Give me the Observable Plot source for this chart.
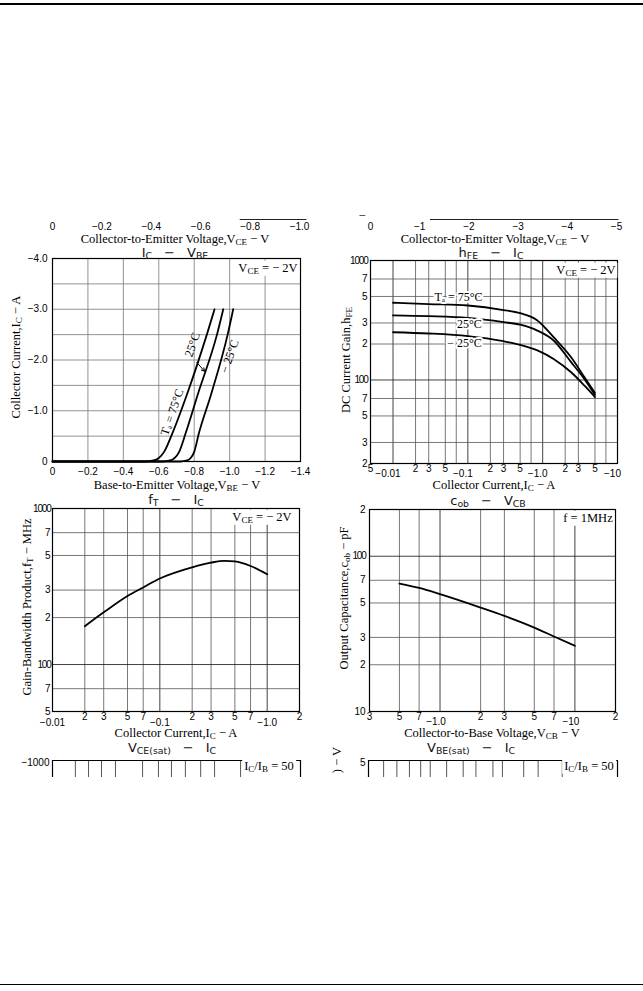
<!DOCTYPE html>
<html><head><meta charset="utf-8">
<script src="https://cdn.jsdelivr.net/npm/d3@7"></script>
<script src="https://cdn.jsdelivr.net/npm/@observablehq/plot@0.6"></script>
<style>
html,body{margin:0;padding:0;background:#fff;}
#page{position:relative;width:643px;height:991px;overflow:hidden;background:#fff;color:#000;}
#page svg{position:absolute;background:transparent;}
.lbl{position:absolute;white-space:nowrap;line-height:1;transform:translate(-50%,-50%);}
.rot{transform:translate(-50%,-50%) rotate(-90deg);}
.serif{font-family:"Liberation Serif","DejaVu Serif",serif;font-size:12.5px;}
.title{font-family:"DejaVu Sans","Liberation Sans",sans-serif;font-size:13px;font-weight:400;color:#111;}
.title .gap{display:inline-block;width:12px;}
.box{background:#fff;padding:1px 2px;}
sub{font-size:72%;vertical-align:-0.3em;line-height:0;}
</style>
</head><body>
<div id="page"></div>
<script>
// ---------------- DATA ----------------
// I_C - V_BE (absolute values: V_BE in V, I_C in A)
const icvbeTemps = ["75°C", "25°C", "−25°C"];
const icvbeV75 = [0, 0.52, 0.57, 0.60, 0.63, 0.676, 0.76, 0.873, 0.915];
const icvbeV25 = [0, 0.62, 0.665, 0.69, 0.715, 0.751, 0.821, 0.930, 0.964];
const icvbeVm25 = [0, 0.72, 0.76, 0.78, 0.80, 0.826, 0.896, 0.990, 1.020];
const icvbeI = [0, 0, 0.02, 0.07, 0.19, 0.55, 1.33, 2.52, 3.0];
const icvbeXTicks = [0, 0.2, 0.4, 0.6, 0.8, 1.0, 1.2, 1.4];
const icvbeYTicks = [0, 1, 2, 3, 4];
const icvbeYGrid = [0.5, 1, 1.5, 2, 2.5, 3, 3.5];

// h_FE - I_C
const hfeIc = [0.01, 0.03, 0.1, 0.3, 0.5, 0.85, 1.4, 2.4, 3.6, 5];
const hfe75 = [443, 432, 420, 385, 362, 315, 228, 155, 106, 78];
const hfe25 = [347, 342, 331, 305, 290, 259, 214, 141, 102, 75];
const hfem25 = [251, 245, 233, 211, 197, 177, 150, 116, 90, 72];
const hfeXGrid = [0.01, 0.02, 0.03, 0.05, 0.07, 0.1, 0.2, 0.3, 0.5, 0.7, 1, 2, 3, 5, 7];
const hfeXMinor = [0.005, 0.02, 0.03, 0.05, 0.2, 0.3, 0.5, 2, 3, 5];
const hfeXMajor = [0.01, 0.1, 1, 10];
const hfeYGrid = [30, 50, 70, 100, 200, 300, 500, 700];
const hfeYTicks = [20, 30, 50, 70, 100, 200, 300, 500, 700, 1000];

// f_T - I_C
const ftIc = [0.02, 0.03, 0.05, 0.07, 0.1, 0.2, 0.3, 0.4, 0.5, 0.7, 1.0];
const ftMHz = [176, 216, 275, 312, 356, 420, 450, 462, 458, 428, 379];
const ftXGrid = [0.02, 0.03, 0.05, 0.07, 0.1, 0.2, 0.3, 0.5, 0.7, 1];
const ftXMinor = [0.02, 0.03, 0.05, 0.07, 0.2, 0.3, 0.5, 0.7, 2];
const ftXMajor = [0.01, 0.1, 1];
const ftYGrid = [70, 100, 200, 300, 500, 700];
const ftYTicks = [50, 70, 100, 200, 300, 500, 700, 1000];

// c_ob - V_CB
const cobV = [0.5, 0.7, 1, 2, 3, 5, 7, 10];
const cobPF = [66.7, 62.5, 57, 46.7, 41.3, 34.7, 30.4, 26.5];
const cobXGrid = [0.5, 0.7, 1, 2, 3, 5, 7, 10];
const cobXMinor = [0.3, 0.5, 0.7, 2, 3, 5, 7, 20];
const cobXMajor = [1, 10];
const cobYGrid = [20, 30, 50, 70, 100];
const cobYTicks = [10, 20, 30, 50, 70, 100, 200];

// partial axes of the charts above (cut off)
const topLeftTicks = [0, 0.2, 0.4, 0.6, 0.8, 1.0];
const topRightTicks = [0, 1, 2, 3, 4, 5];
const topLeftRemnant = [0.76, 1.03];
const topRightRemnant = [1.22, 5.05];

// partial charts below (cut off)
const vcesatGrid = [0.0163, 0.0216, 0.0285, 0.0384, 0.0685, 0.0962, 0.127, 0.171, 0.237, 0.319, 0.556];
const vbesatGrid = [0.0115, 0.013, 0.0146, 0.0162, 0.0177, 0.0206, 0.024, 0.027, 0.0316, 0.0345, 0.042, 0.048, 0.06];

// ---------------- HELPERS ----------------
const page = document.getElementById("page");
const sansFont = '"Liberation Sans", Arial, sans-serif';
const serifFont = '"Liberation Serif", "DejaVu Serif", serif';
const minus = v => "−" + v;
const mantissa = d => String(Math.round(d / Math.pow(10, Math.floor(Math.log10(d) + 1e-9))));

function place(svg, left, top) {
  svg.style.left = left + "px";
  svg.style.top = top + "px";
  page.appendChild(svg);
}
function html(str, x, y, cls) {
  const d = document.createElement("div");
  d.className = "lbl " + (cls || "");
  d.style.left = x + "px";
  d.style.top = y + "px";
  d.innerHTML = str;
  page.appendChild(d);
  return d;
}
const gridMinor = {stroke: "#555", strokeWidth: 0.8};
const tickText = {fontFamily: sansFont, fontSize: 10, fill: "#000"};

function xLabels(ticks, fmt, dy, dx = 0) {
  return Plot.text(ticks, {x: d => d, text: fmt, frameAnchor: "bottom", lineAnchor: "middle", dy, dx, ...tickText});
}
function yLabels(ticks, fmt, pad) {
  return Plot.text(ticks, {y: d => d, text: fmt, frameAnchor: "left", textAnchor: "end", lineAnchor: "middle", dx: -pad, ...tickText});
}
function tighten(svg) {
  d3.select(svg).selectAll("text").each(function () {
    const t = this.textContent;
    if (t === "1000" || t === "100") this.style.letterSpacing = "-1.2px";
  });
}

function chart({left, top, fw, fh, x, y, marks, mL = 56, mT = 12, mR = 22, mB = 26}) {
  const p = Plot.plot({
    width: fw + mL + mR, height: fh + mT + mB,
    marginLeft: mL, marginTop: mT, marginRight: mR, marginBottom: mB,
    x: {...x, axis: null}, y: {...y, axis: null},
    style: {fontFamily: sansFont, fontSize: "10px", background: "transparent", overflow: "visible"},
    marks
  });
  tighten(p);
  place(p, left - mL, top - mT);
  return p;
}
function series(names, xs, ys) {
  const out = [];
  names.forEach((n, i) => xs[i].forEach((xv, j) => out.push({t: n, x: xv, y: ys[i][j]})));
  return out;
}

// ---------------- PAGE RULES ----------------
const topRule = document.createElement("div");
topRule.style.cssText = "position:absolute;left:0;top:3px;width:643px;height:2px;background:#000";
page.appendChild(topRule);
const botRule = document.createElement("div");
botRule.style.cssText = "position:absolute;left:0;top:984px;width:643px;height:1px;background:#000";
page.appendChild(botRule);

// ---------------- PARTIAL TOP AXES ----------------
function topAxis(left, fw, domain, ticks, fmt, remnant) {
  const p = Plot.plot({
    width: fw + 40, height: 30, marginLeft: 20, marginRight: 20, marginTop: 10, marginBottom: 19,
    x: {domain, axis: null}, y: {domain: [0, 1], axis: null},
    style: {fontFamily: sansFont, fontSize: "10px", background: "transparent", overflow: "visible"},
    marks: [
      Plot.ruleY([1], {x1: remnant[0], x2: remnant[1], stroke: "#222", strokeWidth: 1}),
      xLabels(ticks, fmt, 6)
    ]
  });
  place(p, left - 20, 209);
}
topAxis(52, 247, [0, 1], topLeftTicks, d => d === 0 ? "0" : minus(d.toFixed(1)), topLeftRemnant);
topAxis(370, 246, [0, 5], topRightTicks, d => d === 0 ? "0" : minus(d), topRightRemnant);
html('Collector-to-Emitter Voltage,V<sub>CE</sub> − V', 175, 239, "serif");
html('Collector-to-Emitter Voltage,V<sub>CE</sub> − V', 495, 239, "serif");
html('−', 362, 216, "serif");

// ---------------- CHART A: I_C - V_BE ----------------
const icvbeData = series(icvbeTemps, [icvbeV75, icvbeV25, icvbeVm25], [icvbeI, icvbeI, icvbeI]);
chart({
  left: 52, top: 258, fw: 248, fh: 203,
  x: {domain: [0, 1.4]}, y: {domain: [0, 4]},
  marks: [
    Plot.ruleX(icvbeXTicks.slice(1, -1), {stroke: "#777", strokeWidth: 0.8}),
    Plot.ruleY(icvbeYGrid, {stroke: "#777", strokeWidth: 0.8}),
    Plot.frame({stroke: "#000", strokeWidth: 1.2}),
    Plot.line(icvbeData, {x: "x", y: "y", z: "t", curve: "monotone-x", stroke: "#000", strokeWidth: 1.8}),
    Plot.text([{x: 0.675, y: 0.97, s: "Tₐ = 75°C"}, {x: 0.79, y: 2.3, s: "25°C"}, {x: 1.0, y: 2.07, s: "− 25°C"}],
      {x: "x", y: "y", text: "s", rotate: -71, fontFamily: serifFont, fontSize: 12, fill: "#000"}),
    Plot.arrow([{x1: 0.815, y1: 1.95, x2: 0.858, y2: 1.78}], {x1: "x1", y1: "y1", x2: "x2", y2: "y2", stroke: "#000", strokeWidth: 1, headLength: 5}),
    xLabels(icvbeXTicks, d => d === 0 ? "0" : minus(d.toFixed(1)), 10),
    yLabels(icvbeYTicks, d => d === 0 ? "0" : minus(d.toFixed(1)), 5)
  ]
});
html('I<sub>C</sub><span class="gap"></span>−<span class="gap"></span>V<sub>BE</sub>', 175, 252, "title");
html('V<sub>CE</sub> = − 2V', 268, 268, "serif box");
html('Collector Current,I<sub>C</sub> − A', 16, 357, "serif rot");
html('Base-to-Emitter Voltage,V<sub>BE</sub> − V', 177, 485, "serif");

// ---------------- CHART B: h_FE - I_C ----------------
const hfeData = series(icvbeTemps, [hfeIc, hfeIc, hfeIc], [hfe75, hfe25, hfem25]);
chart({
  left: 370, top: 260, fw: 247, fh: 203,
  x: {type: "log", domain: [0.005, 10]}, y: {type: "log", domain: [20, 1000]},
  marks: [
    Plot.ruleX(hfeXGrid, {...gridMinor, stroke: d => hfeXMajor.includes(d) ? "#111" : "#555"}),
    Plot.ruleY(hfeYGrid, {...gridMinor, stroke: d => d === 100 ? "#111" : "#555"}),
    Plot.frame({stroke: "#000", strokeWidth: 1.2}),
    Plot.line(hfeData, {x: "x", y: "y", z: "t", curve: "monotone-x", stroke: "#000", strokeWidth: 1.8}),
    Plot.text([{x: 0.075, y: 490, s: "Tₐ = 75°C"}, {x: 0.105, y: 291, s: "25°C"}, {x: 0.09, y: 202, s: "− 25°C"}],
      {x: "x", y: "y", text: "s", fontFamily: serifFont, fontSize: 12, fill: "#000", stroke: "#fff", strokeWidth: 4}),
    xLabels(hfeXMinor, mantissa, 5),
    xLabels(hfeXMajor, d => d === 10 ? "−10" : d === 1 ? "−1.0" : minus(String(d)), 10, -5),
    yLabels(hfeYTicks, d => (d === 100 || d === 1000) ? String(d) : mantissa(d), 3)
  ]
});
html('h<sub>FE</sub><span class="gap"></span>−<span class="gap"></span>I<sub>C</sub>', 491, 252, "title");
html('V<sub>CE</sub> = − 2V', 586, 270, "serif box");
html('DC Current Gain,h<sub>FE</sub>', 346, 360, "serif rot");
html('Collector Current,I<sub>C</sub> − A', 494, 485, "serif");

// ---------------- CHART C: f_T - I_C ----------------
const ftData = ftIc.map((v, i) => ({x: v, y: ftMHz[i]}));
chart({
  left: 52, top: 508, fw: 247, fh: 203,
  x: {type: "log", domain: [0.01, 2]}, y: {type: "log", domain: [50, 1000]},
  marks: [
    Plot.ruleX(ftXGrid, {...gridMinor, stroke: d => (d === 0.1 || d === 1) ? "#111" : "#555"}),
    Plot.ruleY(ftYGrid, {...gridMinor, stroke: d => d === 100 ? "#111" : "#555"}),
    Plot.frame({stroke: "#000", strokeWidth: 1.2}),
    Plot.line(ftData, {x: "x", y: "y", curve: "monotone-x", stroke: "#000", strokeWidth: 1.8}),
    xLabels(ftXMinor, mantissa, 5),
    xLabels(ftXMajor, d => d === 1 ? "−1.0" : minus(String(d)), 11),
    yLabels(ftYTicks, d => (d === 100 || d === 1000) ? String(d) : mantissa(d), 2)
  ]
});
html('f<sub>T</sub><span class="gap"></span>−<span class="gap"></span>I<sub>C</sub>', 176, 499, "title");
html('V<sub>CE</sub> = − 2V', 262, 517, "serif box");
html('Gain-Bandwidth Product,f<sub>T</sub> − MHz', 27, 607, "serif rot");
html('Collector Current,I<sub>C</sub> − A', 176, 733, "serif");

// ---------------- CHART D: c_ob - V_CB ----------------
const cobData = cobV.map((v, i) => ({x: v, y: cobPF[i]}));
chart({
  left: 369, top: 509, fw: 246, fh: 202,
  x: {type: "log", domain: [0.3, 20]}, y: {type: "log", domain: [10, 200]},
  marks: [
    Plot.ruleX(cobXGrid, {...gridMinor, stroke: d => (d === 1 || d === 10) ? "#111" : "#555"}),
    Plot.ruleY(cobYGrid, {...gridMinor, stroke: d => d === 100 ? "#111" : "#555"}),
    Plot.frame({stroke: "#000", strokeWidth: 1.2}),
    Plot.line(cobData, {x: "x", y: "y", curve: "monotone-x", stroke: "#000", strokeWidth: 1.8}),
    xLabels(cobXMinor, mantissa, 5),
    xLabels(cobXMajor, d => d === 1 ? "−1.0" : "−10", 10, -4),
    yLabels(cobYTicks, d => (d === 10 || d === 100) ? String(d) : mantissa(d), 4)
  ]
});
html('c<sub>ob</sub><span class="gap"></span>−<span class="gap"></span>V<sub>CB</sub>', 488, 500, "title");
html('f = 1MHz', 588, 518, "serif box");
html('Output Capacitance,c<sub>ob</sub> − pF', 344, 598, "serif rot");
html('Collector-to-Base Voltage,V<sub>CB</sub> − V', 492, 733, "serif");

// ---------------- PARTIAL CHARTS BELOW (cut off by page) ----------------
function partial(left, fw, domain, grid, yTick) {
  const p = Plot.plot({
    width: fw + 60, height: 6 + 17, marginLeft: 50, marginRight: 10, marginTop: 6, marginBottom: 0,
    x: {type: "log", domain, axis: null}, y: {domain: [0, 1], axis: null},
    style: {fontFamily: sansFont, fontSize: "10px", background: "transparent", overflow: "visible"},
    marks: [
      Plot.ruleX(grid, {stroke: "#444", strokeWidth: 0.9}),
      Plot.ruleX(domain, {stroke: "#000", strokeWidth: 1.2}),
      Plot.ruleY([1], {stroke: "#000", strokeWidth: 1.2}),
      Plot.text([yTick], {frameAnchor: "top-left", dx: -3, dy: -2, textAnchor: "end", text: d => d, ...tickText})
    ]
  });
  tighten(p);
  place(p, left - 50, 760 - 6);
}
partial(52, 248, [0.01, 2], vcesatGrid, "−1000");
partial(368, 249, [0.01, 0.1], vbesatGrid, "5");
html('V<sub>CE(sat)</sub><span class="gap"></span>−<span class="gap"></span>I<sub>C</sub>', 172, 747, "title");
html('V<sub>BE(sat)</sub><span class="gap"></span>−<span class="gap"></span>I<sub>C</sub>', 471, 747, "title");
html('I<sub>C</sub>/I<sub>B</sub> = 50', 269, 766, "serif box");
html('I<sub>C</sub>/I<sub>B</sub> = 50', 589, 766, "serif box");
// visible fragment of the cut-off rotated axis title of the right partial chart
html(') − V', 337, 760, "serif rot");
</script>
</body></html>
